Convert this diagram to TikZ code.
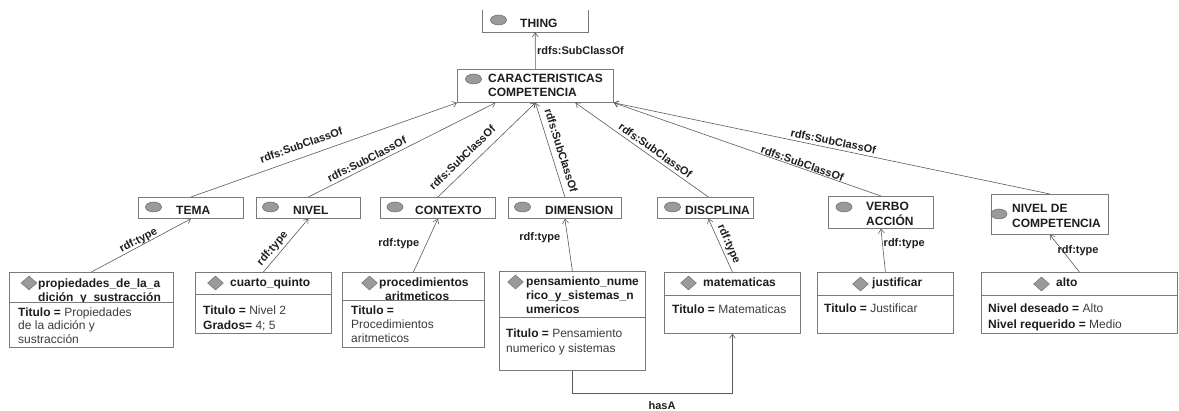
\documentclass[tikz,border=0pt]{standalone}
\usepackage{fontspec}
\setmainfont{Liberation Sans}
\usetikzlibrary{arrows.meta,calc,shapes.geometric}

\definecolor{frame}{HTML}{7A7A7A}
\definecolor{wire}{HTML}{5A5A5A}
\definecolor{oval}{HTML}{9A9A9A}
\definecolor{ovalrim}{HTML}{6A6A6A}
\definecolor{ink}{HTML}{1E1E1E}
\definecolor{valink}{HTML}{3C3C3C}

% multi-line text nodes are placed by the baseline of their last line
\tikzset{
  box/.style={draw=frame, line width=0.8pt, fill=white, inner sep=0pt, anchor=north west},
  openbox/.style={draw=none, inner sep=0pt, anchor=north west},
  oval/.style={ellipse, fill=oval, draw=ovalrim, line width=0.5pt, minimum width=16pt, minimum height=10pt, inner sep=0pt},
  gem/.style={diamond, fill=oval, draw=ovalrim, line width=0.4pt, minimum width=16pt, minimum height=14pt, inner sep=0pt},
  title/.style={font=\bfseries\fontsize{12}{14}\selectfont, text=ink, inner sep=0pt, anchor=base west, align=left},
  attr/.style={font=\fontsize{12}{14.5}\selectfont, text=valink, inner sep=0pt, anchor=base west, align=left},
  arr/.style={draw=wire, line width=0.6pt, -{Straight Barb[length=4pt,width=6pt]}},
  tag/.style={font=\bfseries\fontsize{11}{13}\selectfont, text=ink, inner sep=1.5pt},
}
\newcommand\key[1]{{\color{ink}\bfseries #1}}

\begin{document}
\begin{tikzpicture}[x=1pt, y=-1pt]
\useasboundingbox (0,0) rectangle (1179,411);

% ---------- classes ----------
\node[openbox, minimum width=106pt, minimum height=22pt] (thing) at (482,10) {};
\draw[frame, line width=0.8pt] (thing.north west) -- (thing.south west) -- (thing.south east) -- (thing.north east);
\node[oval] (thing-o) at (498.5,20) {};
\node[title] (thing-t) at (520,27.5) {THING};

\node[box, minimum width=156pt, minimum height=33pt] (car) at (457,69) {};
\node[oval] (car-o) at (473.5,79) {};
\node[title] (car-t) at (488,97) {CARACTERISTICAS\\COMPETENCIA};

\node[box, minimum width=105pt, minimum height=21pt] (tema) at (138,197) {};
\node[oval] (tema-o) at (153.5,207) {};
\node[title] (tema-t) at (176,214.5) {TEMA};

\node[box, minimum width=104pt, minimum height=21pt] (nivel) at (256,197) {};
\node[oval] (nivel-o) at (270.5,207) {};
\node[title] (nivel-t) at (293,214.5) {NIVEL};

\node[box, minimum width=115pt, minimum height=21pt] (ctx) at (380,197) {};
\node[oval] (ctx-o) at (395,207) {};
\node[title] (ctx-t) at (415,214.5) {CONTEXTO};

\node[box, minimum width=113pt, minimum height=21pt] (dim) at (508,197) {};
\node[oval] (dim-o) at (522.5,207) {};
\node[title] (dim-t) at (545,214.5) {DIMENSION};

\node[box, minimum width=96pt, minimum height=21pt] (disc) at (657,197) {};
\node[oval] (disc-o) at (672.5,207) {};
\node[title] (disc-t) at (685,214.5) {DISCPLINA};

\node[box, minimum width=105pt, minimum height=32pt] (verbo) at (828,196) {};
\node[oval] (verbo-o) at (844,207) {};
\node[title, font=\bfseries\fontsize{12}{15}\selectfont] (verbo-t) at (866,226) {VERBO\\ACCIÓN};

\node[box, minimum width=117pt, minimum height=40pt] (ndc) at (991,194) {};
\node[oval] (ndc-o) at (999,214) {};
\node[title, font=\bfseries\fontsize{12}{15}\selectfont] (ndc-t) at (1012,228) {NIVEL DE\\COMPETENCIA};

% ---------- individuals (header drawn first, body box covers what hangs below) ----------
\node[box, minimum width=164pt, minimum height=30pt] (prop) at (9,272) {};
\node[gem] (prop-g) at (29,283) {};
\node[title] (prop-t) at (38,302) {propiedades\_de\_la\_a\\dición\_y\_sustracción};
\node[box, minimum width=164pt, minimum height=45pt] (propB) at (9,302) {};
\node[attr, font=\fontsize{12}{13.5}\selectfont] (prop-a) at (18,343.5) {\key{Titulo =} Propiedades\\de la adición y\\sustracción};

\node[box, minimum width=136pt, minimum height=22pt] (cq) at (195,272) {};
\node[gem] (cq-g) at (215.5,283) {};
\node[title] (cq-t) at (230,286.5) {cuarto\_quinto};
\node[box, minimum width=136pt, minimum height=39pt] (cqB) at (195,294) {};
\node[attr, font=\fontsize{12}{15}\selectfont] (cq-a) at (203,330) {\key{Titulo =} Nivel 2\\\key{Grados=} 4; 5};

\node[box, minimum width=142pt, minimum height=28pt] (proc) at (342,272) {};
\node[gem] (proc-g) at (369.5,283) {};
\node[title] (proc-t) at (379,301) {procedimientos\\\hspace*{6pt}aritmeticos};
\node[box, minimum width=142pt, minimum height=47pt] (procB) at (342,300) {};
\node[attr, font=\fontsize{12}{14}\selectfont] (proc-a) at (351,343) {\key{Titulo =}\\Procedimientos\\aritmeticos};

\node[box, minimum width=146pt, minimum height=46pt] (pens) at (499,271) {};
\node[gem] (pens-g) at (515.5,282) {};
\node[title] (pens-t) at (526,314) {pensamiento\_nume\\rico\_y\_sistemas\_n\\umericos};
\node[box, minimum width=146pt, minimum height=53pt] (pensB) at (499,317) {};
\node[attr, font=\fontsize{12}{15}\selectfont] (pens-a) at (506,353) {\key{Titulo =} Pensamiento\\numerico y sistemas};

\node[box, minimum width=136pt, minimum height=23pt] (mat) at (664,272) {};
\node[gem] (mat-g) at (688.5,283) {};
\node[title] (mat-t) at (703,286.5) {matematicas};
\node[box, minimum width=136pt, minimum height=38pt] (matB) at (664,295) {};
\node[attr] (mat-a) at (672,313.5) {\key{Titulo =} Matematicas};

\node[box, minimum width=136pt, minimum height=23pt] (just) at (817,272) {};
\node[gem] (just-g) at (860.5,284) {};
\node[title] (just-t) at (872,287) {justificar};
\node[box, minimum width=136pt, minimum height=38pt] (justB) at (817,295) {};
\node[attr] (just-a) at (824,313) {\key{Titulo =} Justificar};

\node[box, minimum width=196pt, minimum height=23pt] (alto) at (981,272) {};
\node[gem] (alto-g) at (1041.5,284) {};
\node[title] (alto-t) at (1056,287) {alto};
\node[box, minimum width=196pt, minimum height=38pt] (altoB) at (981,295) {};
\node[attr, font=\fontsize{12}{16}\selectfont] (alto-a) at (988,329) {\key{Nivel deseado =} Alto\\\key{Nivel requerido =} Medio};

% ---------- subclass links ----------
\draw[arr] (car.north) -- (thing.south) node[tag, right, pos=0.5] {rdfs:SubClassOf};

\draw[arr] (tema.north) -- (car.south west)
  node[tag, sloped, above, pos=0.43, inner ysep=8pt] {rdfs:SubClassOf};
\draw[arr] (nivel.north) -- ($(car.south west)!0.245!(car.south east)$)
  node[tag, sloped, above, pos=0.33, inner ysep=3pt] {rdfs:SubClassOf};
\draw[arr] (ctx.north) -- (car.south)
  node[tag, sloped, above, pos=0.33, inner ysep=7pt] {rdfs:SubClassOf};
\draw[arr] (dim.north) -- (car.south)
  node[tag, sloped, above, pos=0.46, inner ysep=6pt] {rdfs:SubClassOf};
\draw[arr] ([xshift=3pt]disc.north) -- ($(car.south west)!0.755!(car.south east)$)
  node[tag, sloped, above, pos=0.43, inner ysep=3pt] {rdfs:SubClassOf};
\draw[arr] (verbo.north) -- (car.south east)
  node[tag, sloped, above, pos=0.30, inner ysep=0.5pt] {rdfs:SubClassOf};
\draw[arr] (ndc.north) -- (car.south east)
  node[tag, sloped, above, pos=0.50, inner ysep=3pt] {rdfs:SubClassOf};

% ---------- type links ----------
\draw[arr] (prop.north) -- (tema.south)
  node[tag, sloped, above, pos=0.5, inner ysep=0pt] {rdf:type};
\draw[arr] (cq.north) -- (nivel.south)
  node[tag, sloped, above, pos=0.34, inner ysep=2.5pt] {rdf:type};
\draw[arr] (proc.north) -- (ctx.south)
  node[tag, left, pos=0.54, inner xsep=7pt] {rdf:type};
\draw[arr] (pens.north) -- (dim.south)
  node[tag, left, pos=0.64, inner xsep=7pt] {rdf:type};
\draw[arr] (mat.north) -- ([xshift=3pt]disc.south)
  node[tag, sloped, above, pos=0.46, inner ysep=2.5pt] {rdf:type};
\draw[arr] (just.north) -- (verbo.south)
  node[tag, right, pos=0.66, inner xsep=1pt] {rdf:type};
\draw[arr] (alto.north) -- (ndc.south)
  node[tag, right, pos=0.58, inner xsep=0pt, xshift=-5pt] {rdf:type};

% ---------- object property ----------
\draw[arr] (pensB.south) -- ++(0,23) -| (matB.south)
  node[tag, below, pos=0.28, inner ysep=7pt] {hasA};
\end{tikzpicture}
\end{document}
